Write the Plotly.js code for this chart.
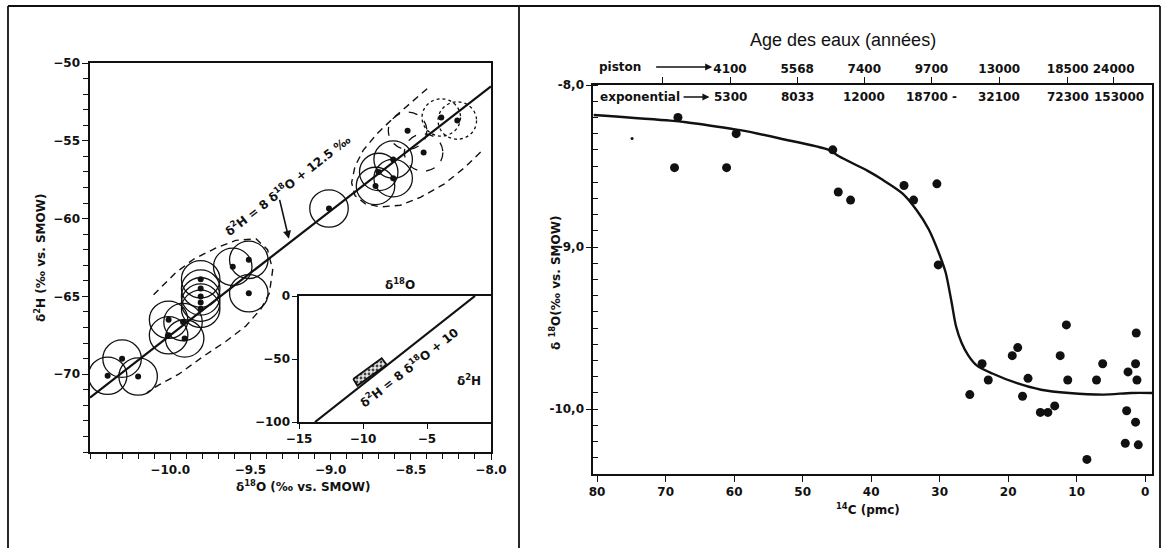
<!DOCTYPE html>
<html><head><meta charset="utf-8">
<script src="https://cdn.plot.ly/plotly-3.0.1.min.js"></script>
<style>html,body{margin:0;padding:0;background:#fff}#chart{width:1167px;height:548px}</style>
</head><body><div id="chart"></div><script>
// ---------- Left panel: d2H vs d18O ----------
const leftD18O = [-10.39,-10.30,-10.20,-10.01,-10.01,-9.92,-9.91,-9.81,-9.81,-9.81,-9.81,-9.81,-9.61,-9.51,-9.51,-9.01,-8.72,-8.70,-8.61,-8.61,-8.52,-8.42,-8.31,-8.21];
const leftD2H  = [-70.1,-69.0,-70.15,-66.5,-67.5,-66.65,-67.7,-63.9,-64.5,-65.0,-65.4,-65.8,-63.1,-62.65,-64.8,-59.35,-57.9,-57.0,-57.4,-56.2,-54.35,-55.75,-53.5,-53.7];
const circleStyle = ['solid','solid','solid','solid','solid','solid','solid','solid','solid','solid','solid','solid','solid','solid','solid','solid','solid','solid','solid','solid','dash','dash','dot','dot'];
const errD18O = 0.12, errD2H = 1.2;
const regLineX = [-10.5, -8.0];
const regLineY = [-71.5, -51.5];
const envLowX = [-10.104,-9.968,-9.853,-9.717,-9.591,-9.465,-9.393,-9.361,-9.382,-9.434,-9.528,-9.654,-9.80,-9.947,-10.073,-10.146];
const envLowY = [-64.9,-63.5,-62.6,-61.9,-61.4,-61.3,-62.0,-63.3,-64.8,-65.8,-66.9,-67.9,-68.9,-70.0,-70.7,-71.2];
const envHighX = [-8.398,-8.503,-8.607,-8.712,-8.796,-8.848,-8.869,-8.848,-8.785,-8.69,-8.565,-8.44,-8.293,-8.168,-8.042];
const envHighY = [-51.65,-52.58,-53.52,-54.56,-55.6,-56.64,-57.69,-58.52,-59.04,-59.25,-59.14,-58.63,-57.79,-56.75,-55.5];
const leftXTicks = [-10.0,-9.5,-9.0,-8.5,-8.0];
const leftYTicks = [-50,-55,-60,-65,-70];
// inset
const insetLineX = [-13.75, -1.25];
const insetLineY = [-100, 0];
const insetBoxX = [-10.76,-8.54,-8.15,-10.44,-10.76];
const insetBoxY = [-65.9,-49.4,-54.6,-71.1,-65.9];
const insetXTicks = [-15,-10,-5];
const insetYTicks = [0,-50,-100];
// ---------- Right panel: d18O vs 14C ----------
const pmc = [68.2,59.7,45.6,68.7,61.1,44.8,43.0,35.2,33.8,30.4,30.2,11.5,1.3,18.6,19.4,12.4,23.8,6.2,1.4,2.5,22.9,17.1,11.3,7.1,1.2,25.6,17.9,15.3,14.2,13.2,2.7,1.4,2.9,1.0,8.5];
const rightD18O = [-8.20,-8.30,-8.40,-8.51,-8.51,-8.66,-8.71,-8.62,-8.71,-8.61,-9.11,-9.48,-9.53,-9.62,-9.67,-9.67,-9.72,-9.72,-9.72,-9.77,-9.82,-9.81,-9.82,-9.82,-9.82,-9.91,-9.92,-10.02,-10.02,-9.98,-10.01,-10.08,-10.21,-10.22,-10.31];
const speckPmc = [74.9];
const speckD18O = [-8.33];
const curvePmc = [80.5,69.3,67.0,60.4,58.9,53.3,46.2,44.7,40.5,38.5,35.4,33.4,31.6,29.9,29.1,28.3,27.6,26.8,25.8,24.6,22.3,18.7,15.2,11.1,6.1,2.0,-1.0];
const curveD18O = [-8.185,-8.22,-8.23,-8.27,-8.28,-8.33,-8.40,-8.44,-8.53,-8.58,-8.67,-8.77,-8.89,-9.06,-9.16,-9.33,-9.49,-9.59,-9.67,-9.73,-9.78,-9.84,-9.88,-9.90,-9.91,-9.90,-9.90];
const pmcTicks = [80,70,60,50,40,30,20,10,0];
const rightYTicks = [-8.0,-9.0,-10.0];
const rightYTickText = ['-8,0','-9,0','-10,0'];
const ageTickPos = [70.5,60.6,50.8,41.0,31.2,21.3,11.3,4.6];
const pistonAges = ['','4100','5568','7400','9700','13000','18500','24000'];
const expoPos = [60.6,50.8,41.0,31.2,21.3,11.3,3.8];
const expoAges = ['5300','8033','12000','18700 -','32100','72300','153000'];

const W = 1167, H = 548;
const fx = v => v / W, fy = v => 1 - v / H;
const FONT = {family:'DejaVu Sans', size:12, color:'#111', weight:'bold'};

const traces = [
  {x:envLowX, y:envLowY, xaxis:'x', yaxis:'y', mode:'lines', line:{color:'#111', width:1.4, dash:'7px,5px'}, hoverinfo:'skip'},
  {x:envHighX, y:envHighY, xaxis:'x', yaxis:'y', mode:'lines', line:{color:'#111', width:1.4, dash:'7px,5px'}, hoverinfo:'skip'},
  {x:regLineX, y:regLineY, xaxis:'x', yaxis:'y', mode:'lines', line:{color:'#111', width:2.2}},
  {x:leftD18O, y:leftD2H, xaxis:'x', yaxis:'y', mode:'markers', marker:{color:'#111', size:6}},
  {x:insetLineX, y:insetLineY, xaxis:'x2', yaxis:'y2', mode:'lines', line:{color:'#111', width:2.2}},
  {x:insetBoxX, y:insetBoxY, xaxis:'x2', yaxis:'y2', mode:'lines', fill:'toself', fillcolor:'#d8d8d8',
   fillpattern:{shape:'.', fgcolor:'#444', bgcolor:'#e8e8e8', size:4, solidity:0.4}, line:{color:'#111', width:1.8}},
  {x:curvePmc, y:curveD18O, xaxis:'x3', yaxis:'y3', mode:'lines', line:{color:'#111', width:2.4, shape:'spline', smoothing:0.8}},
  {x:pmc, y:rightD18O, xaxis:'x3', yaxis:'y3', mode:'markers', marker:{color:'#111', size:9}},
  {x:speckPmc, y:speckD18O, xaxis:'x3', yaxis:'y3', mode:'markers', marker:{color:'#111', size:3}},
  {x:[], y:[], xaxis:'x4', yaxis:'y3', mode:'markers'}
];

const shapes = leftD18O.map((x, i) => ({
  type:'circle', xref:'x', yref:'y', layer:'above',
  x0:x - errD18O, x1:x + errD18O, y0:leftD2H[i] - errD2H, y1:leftD2H[i] + errD2H,
  line:{color:'#111', width:1.3, dash:circleStyle[i]}
}));
// page frame
const frame = [[8,6,1160,6],[8,6,8,548],[519,6,519,548],[1160,6,1160,548]];
frame.forEach(f => shapes.push({type:'line', xref:'paper', yref:'paper', x0:fx(f[0]), y0:fy(f[1]), x1:fx(f[2]), y1:fy(f[3]), line:{color:'#111', width:1.8}}));

const axBase = {showline:true, linecolor:'#111', linewidth:1.6, mirror:true, showgrid:false, zeroline:false, ticks:'outside', tickcolor:'#111', tickfont:FONT, fixedrange:true};
const P = {xanchor:'center', yanchor:'middle', showarrow:false};

const annotations = [
  {...P, text:'δ<sup>2</sup>H = 8 δ<sup>18</sup>O + 12.5 ‰', xref:'x', yref:'y', x:-9.27, y:-57.85, textangle:-38, font:{...FONT, size:12}},
  {text:'', xref:'x', yref:'y', x:-9.26, y:-61.3, axref:'x', ayref:'y', ax:-9.32, ay:-58.7, showarrow:true, arrowhead:2, arrowsize:1, arrowwidth:1.6, arrowcolor:'#111'},
  {...P, text:'δ<sup>2</sup>H (‰ vs. SMOW)', xref:'paper', yref:'paper', x:fx(40), y:fy(258), textangle:-90, font:FONT},
  {...P, text:'δ<sup>18</sup>O (‰ vs. SMOW)', xref:'paper', yref:'paper', x:fx(303), y:fy(486), font:FONT},
  {...P, text:'δ<sup>18</sup>O', xref:'x2', yref:'paper', x:-7.1, y:fy(284), font:{...FONT, size:12}},
  {...P, text:'δ<sup>2</sup>H', xref:'x2', yref:'y2', x:-1.7, y:-67, font:{...FONT, size:12}},
  {...P, text:'δ<sup>2</sup>H = 8 δ<sup>18</sup>O + 10', xref:'x2', yref:'y2', x:-6.4, y:-56.7, textangle:-38, font:{...FONT, size:12}},
  {...P, text:'Age des eaux (années)', xref:'paper', yref:'paper', x:fx(843), y:fy(40), font:{family:'Liberation Sans', size:18, color:'#111'}},
  {...P, text:'piston', xref:'x3', yref:'paper', x:76.6, y:fy(67), font:FONT},
  {text:'', xref:'x3', yref:'paper', x:63.2, y:fy(67), axref:'x3', ayref:'pixel', ax:71.6, ay:0, showarrow:true, arrowhead:2, arrowwidth:1.4, arrowcolor:'#111'},
  {...P, text:'exponential', xref:'x3', yref:'paper', x:73.75, y:fy(97), font:FONT},
  {text:'', xref:'x3', yref:'paper', x:63.6, y:fy(97), axref:'x3', ayref:'pixel', ax:67.6, ay:0, showarrow:true, arrowhead:2, arrowwidth:1.4, arrowcolor:'#111'},
  {...P, text:'δ <sup>18</sup>O(‰ vs. SMOW)', xref:'paper', yref:'paper', x:fx(555), y:fy(283), textangle:-90, font:FONT},
  {...P, text:'<sup>14</sup>C (pmc)', xref:'paper', yref:'paper', x:fx(868), y:fy(509), font:FONT}
];
expoPos.forEach((p, i) => annotations.push({...P, text:expoAges[i], xref:'x3', yref:'paper', x:p, y:fy(97), font:FONT}));

const layout = {
  width:W, height:H, margin:{l:0, r:0, t:0, b:0}, showlegend:false,
  paper_bgcolor:'#fff', plot_bgcolor:'rgba(0,0,0,0)',
  xaxis:{...axBase, domain:[fx(90), fx(491)], anchor:'y', range:[-10.5,-8.0], tickmode:'array', tickvals:leftXTicks, tickformat:'.1f', ticklen:6,
         minor:{ticks:'outside', tickmode:'linear', tick0:-10.5, dtick:0.1, ticklen:5, tickcolor:'#111'}},
  yaxis:{...axBase, domain:[fy(452), fy(63)], anchor:'x', range:[-75,-50], tickmode:'array', tickvals:leftYTicks, ticklen:6,
         minor:{ticks:'outside', tickmode:'linear', tick0:-75, dtick:1, ticklen:5, tickcolor:'#111'}},
  xaxis2:{...axBase, domain:[fx(299), fx(491)], anchor:'y2', range:[-15,0], tickmode:'array', tickvals:insetXTicks, ticklen:5},
  yaxis2:{...axBase, domain:[fy(422), fy(296)], anchor:'x2', range:[-100,0], tickmode:'array', tickvals:insetYTicks, ticklen:5},
  xaxis3:{...axBase, mirror:false, domain:[fx(593), fx(1152)], anchor:'y3', range:[80.6,-1.0], tickmode:'array', tickvals:pmcTicks, ticklen:6},
  yaxis3:{...axBase, domain:[fy(474), fy(85)], anchor:'x3', range:[-10.4,-8.0], tickmode:'array', tickvals:rightYTicks, ticktext:rightYTickText, ticklen:5,
          minor:{ticks:'inside', tickmode:'linear', tick0:-10.4, dtick:0.1, ticklen:5, tickcolor:'#111'}},
  xaxis4:{...axBase, mirror:false, overlaying:'x3', side:'top', anchor:'y3', range:[80.6,-1.0], tickmode:'array', tickvals:ageTickPos, ticktext:pistonAges, ticklen:6},
  shapes:shapes,
  annotations:annotations
};
Plotly.newPlot('chart', traces, layout, {staticPlot:true});
</script></body></html>
